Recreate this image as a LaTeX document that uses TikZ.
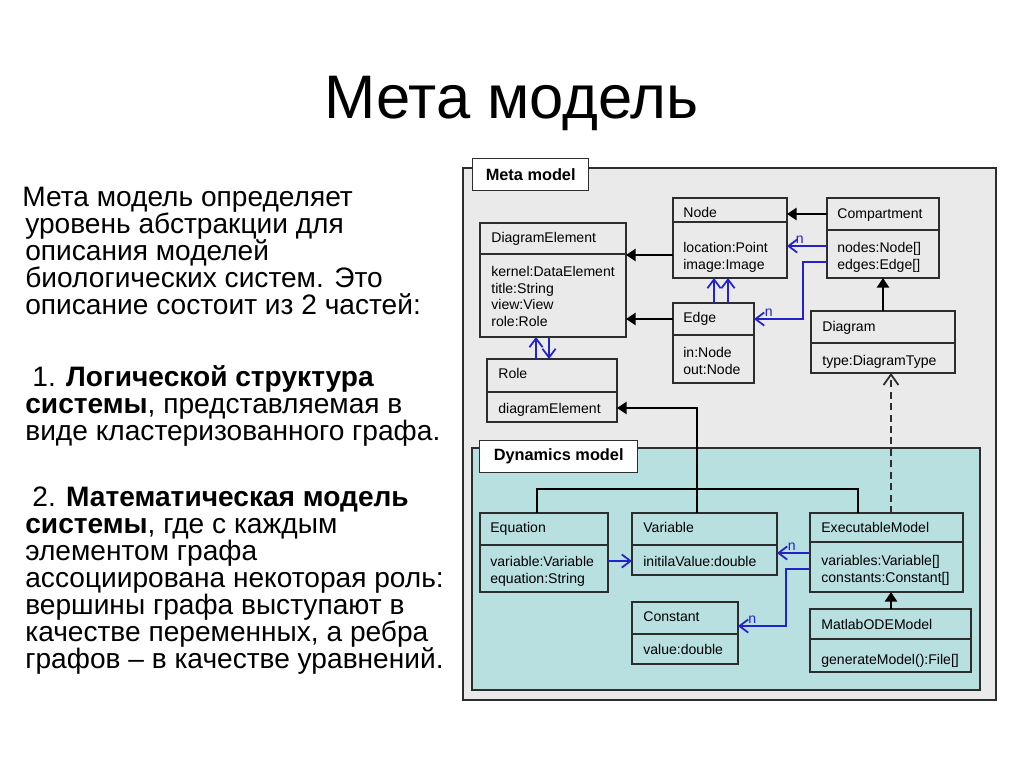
\documentclass[tikz,border=0pt]{standalone}
\usepackage{fontspec}
\setmainfont{Liberation Sans}
\usepackage{tikz}
\usetikzlibrary{arrows.meta}
\usetikzlibrary{positioning}

\definecolor{panelgray}{RGB}{234,234,234}
\definecolor{panelteal}{RGB}{185,224,224}
\definecolor{linkblue}{RGB}{35,35,200}
\definecolor{boxline}{RGB}{45,45,45}
\newcommand\slidebodyfont{\fontsize{16}{15.3}\selectfont\lineskiplimit-100pt\relax}

\begin{document}
\begin{tikzpicture}[x=0.02cm, y=-0.02cm, font=\fontsize{8}{9.45}\selectfont]
\tikzstyle{cls}=[draw=boxline, line width=0.8pt, anchor=north west, inner sep=0pt, outer sep=0pt]
\tikzstyle{sep}=[draw=boxline, line width=0.8pt]
\tikzstyle{ttl}=[anchor=base west, inner sep=0pt]
\tikzstyle{attr}=[anchor=north west, inner sep=0pt, align=left]
\tikzstyle{inh}=[draw=black, line width=1pt, -{Triangle[length=5.5pt,width=7pt]}]
\tikzstyle{assoc}=[draw=linkblue, line width=1pt, -{Straight Barb[length=5pt,width=7.5pt]}]
\tikzstyle{real}=[draw=boxline, line width=1pt, dash pattern=on 4pt off 2.5pt, -{Straight Barb[length=6pt,width=8.5pt]}]
\tikzstyle{mult}=[text=linkblue, inner sep=0pt, above=1pt]
\tikzstyle{panel}=[draw=boxline, line width=0.8pt, anchor=north west, inner sep=0pt, outer sep=0pt]
\tikzstyle{tag}=[draw=boxline, fill=white, line width=0.8pt, anchor=north west, inner sep=0pt, font=\fontsize{9.3}{11}\selectfont\bfseries]
\tikzstyle{body}=[anchor=north west, inner sep=0pt, align=left, font=\slidebodyfont]

\fill[white] (0,0) rectangle (1024,768);
\useasboundingbox (0,0) rectangle (1024,768);

% title and text
\node[anchor=base, inner sep=0pt, font=\fontsize{35}{40}\selectfont] (title) at (511.5,118) {Мета модель};
\node[body] (intro) at (25,187) {\hspace*{-1.7pt}Мета модель определяет\\уровень абстракции для\\описания моделей\\биологических систем. Это\\описание состоит из 2 частей:};
\node[body] (part1) at (25,365) {\hspace*{4pt}1. \textbf{Логической структура}\\\textbf{системы}, представляемая в\\виде кластеризованного графа.};
\node[body] (part2) at (25,487) {\hspace*{4pt}2. \textbf{Математическая модель}\\\textbf{системы}, где с каждым\\элементом графа\\ассоциирована некоторая роль:\\вершины графа выступают в\\качестве переменных, а ребра\\графов – в качестве уравнений.};

% panels
\node[panel, fill=panelgray, minimum width=10.66cm, minimum height=10.64cm] (metaP) at (463,168) {};
\node[tag, minimum width=2.32cm, minimum height=0.64cm] (metaL) at (472,158) {Meta model};
\node[panel, fill=panelteal, minimum width=10.16cm, minimum height=4.84cm] (dynP) at (472,448) {};
\node[tag, minimum width=3.16cm, minimum height=0.64cm] (dynL) at (479,440) {Dynamics model};

% meta model classes
\node[cls, minimum width=2.92cm, minimum height=2.28cm] (de) at (480,223) {};
\draw[sep] (de.west |- 0,254) -- (de.east |- 0,254);
\node[ttl] (deT) at (491,242) {DiagramElement};
\node[attr] (deA) at (491,266) {kernel:DataElement\\title:String\\view:View\\role:Role};

\node[cls, minimum width=2.28cm, minimum height=1.6cm] (node) at (673,198) {};
\draw[sep] (node.west |- 0,222) -- (node.east |- 0,222);
\node[ttl] (nodeT) at (683,217) {Node};
\node[attr] (nodeA) at (683,242) {location:Point\\image:Image};

\node[cls, minimum width=2.24cm, minimum height=1.6cm] (comp) at (827,198) {};
\draw[sep] (comp.west |- 0,230) -- (comp.east |- 0,230);
\node[ttl] (compT) at (837,218) {Compartment};
\node[attr] (compA) at (837,242) {nodes:Node[]\\edges:Edge[]};

\node[cls, minimum width=1.62cm, minimum height=1.6cm] (edge) at (673,303) {};
\draw[sep] (edge.west |- 0,335) -- (edge.east |- 0,335);
\node[ttl] (edgeT) at (683,322) {Edge};
\node[attr] (edgeA) at (683,347) {in:Node\\out:Node};

\node[cls, minimum width=2.88cm, minimum height=1.24cm] (diag) at (811,311) {};
\draw[sep] (diag.west |- 0,343) -- (diag.east |- 0,343);
\node[ttl] (diagT) at (822,331) {Diagram};
\node[attr] (diagA) at (822,355) {type:DiagramType};

\node[cls, minimum width=2.6cm, minimum height=1.26cm] (role) at (487,359) {};
\draw[sep] (role.west |- 0,392) -- (role.east |- 0,392);
\node[ttl] (roleT) at (498,378) {Role};
\node[attr] (roleA) at (498,403) {diagramElement};

% dynamics model classes
\node[cls, minimum width=2.56cm, minimum height=1.58cm] (eq) at (480,513) {};
\draw[sep] (eq.west |- 0,545) -- (eq.east |- 0,545);
\node[ttl] (eqT) at (490,532) {Equation};
\node[attr] (eqA) at (490,556) {variable:Variable\\equation:String};

\node[cls, minimum width=2.9cm, minimum height=1.24cm] (var) at (632,513) {};
\draw[sep] (var.west |- 0,545) -- (var.east |- 0,545);
\node[ttl] (varT) at (643,532) {Variable};
\node[attr] (varA) at (643,556) {initilaValue:double};

\node[cls, minimum width=2.12cm, minimum height=1.24cm] (const) at (632,602) {};
\draw[sep] (const.west |- 0,634) -- (const.east |- 0,634);
\node[ttl] (constT) at (643,621) {Constant};
\node[attr] (constA) at (643,644) {value:double};

\node[cls, minimum width=3.06cm, minimum height=1.58cm] (exec) at (810,513) {};
\draw[sep] (exec.west |- 0,542) -- (exec.east |- 0,542);
\node[ttl] (execT) at (821,532) {ExecutableModel};
\node[attr] (execA) at (821,555) {variables:Variable[]\\constants:Constant[]};

\node[cls, minimum width=3.22cm, minimum height=1.26cm] (matlab) at (810,609) {};
\draw[sep] (matlab.west |- 0,639) -- (matlab.east |- 0,639);
\node[ttl] (matlabT) at (821,629) {MatlabODEModel};
\node[attr] (matlabA) at (821,654) {generateModel():File[]};

% connectors
\coordinate (bendA) at (803,262);
\coordinate (bendB) at (786,569);
\coordinate (treeR) at (858,489);

\draw[inh] (node.west |- 0,255) -- (de.east |- 0,255);
\draw[inh] (edge.west |- 0,319) -- (de.east |- 0,319);
\draw[inh] (comp.west |- 0,214) -- (node.east |- 0,214);
\draw[assoc] (comp.west |- 0,246) -- node[mult, pos=0.68] {n} (node.east |- 0,246);
\draw[assoc] (comp.west |- bendA) -- (bendA) |- node[mult, pos=0.85] {n} (edge.east |- 0,319);
\draw[assoc] (edge.north -| 714,0) -- (node.south -| 714,0);
\draw[assoc] (edge.north -| 728,0) -- (node.south -| 728,0);
\draw[assoc] (role.north -| 536,0) -- (de.south -| 536,0);
\draw[assoc] (de.south -| 549,0) -- (role.north -| 549,0);
\draw[inh] (diag.north -| 883,0) -- (comp.south -| 883,0);
\draw[real] (exec.north -| 891,0) -- (diag.south -| 891,0);
\draw[inh] (var.north -| 697,0) |- (role.east |- 0,408);
\draw[draw=black, line width=1pt] (eq.north -| 537,0) |- (treeR) -- (exec.north -| treeR);
\draw[assoc] (eq.east |- 0,561) -- (var.west |- 0,561);
\draw[assoc] (exec.west |- 0,553) -- node[mult, pos=0.55] {n} (var.east |- 0,553);
\draw[assoc] (exec.west |- bendB) -- (bendB) |- node[mult, pos=0.85] {n} (const.east |- 0,626);
\draw[inh] (matlab.north -| 891,0) -- (exec.south -| 891,0);
\end{tikzpicture}
\end{document}
